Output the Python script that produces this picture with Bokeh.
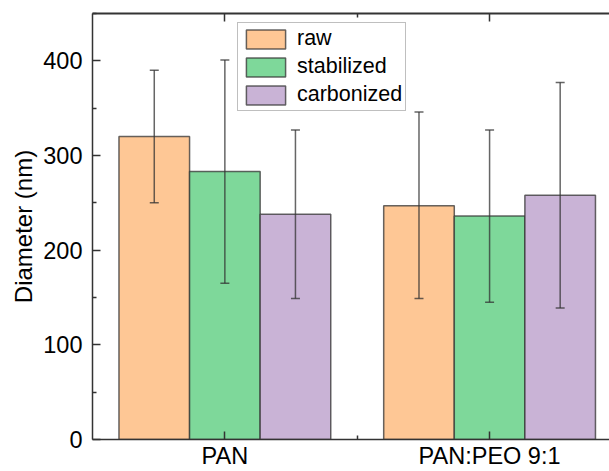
from bokeh.plotting import figure
from bokeh.models import (ColumnDataSource, Whisker, TeeHead, FixedTicker, LinearAxis,
                          Legend, LegendItem, Range1d)
from bokeh.embed import file_html
from bokeh.resources import INLINE

# ---- data ----
groups = ["PAN", "PAN:PEO 9:1"]
series = ["raw", "stabilized", "carbonized"]
raw = [320, 247]
raw_upper = [390, 346]
raw_lower = [250, 149]
stabilized = [283, 236]
stabilized_upper = [401, 327]
stabilized_lower = [165, 145]
carbonized = [238, 258]
carbonized_upper = [327, 377]
carbonized_lower = [149, 139]
y_ticks = [0, 100, 200, 300, 400]

values = [raw, stabilized, carbonized]
uppers = [raw_upper, stabilized_upper, carbonized_upper]
lowers = [raw_lower, stabilized_lower, carbonized_lower]
colors = ["#FEC795", "#7ED89A", "#C9B3D6"]

FONT = "Liberation Sans"
AX = "#333333"

p = figure(width=609, height=471, x_range=Range1d(0.5, 2.453), y_range=Range1d(0, 450),
           output_backend="svg", toolbar_location=None,
           min_border_left=92, min_border_right=0, min_border_top=13, min_border_bottom=30)
p.outline_line_color = None
p.xgrid.visible = False
p.ygrid.visible = False
p.background_fill_color = "white"
p.border_fill_color = "white"

bar_w = 0.8 / 3
centers = [1, 2]
items = []
for i, name in enumerate(series):
    off = (i - 1) * bar_w
    xs = [c + off for c in centers]
    src = ColumnDataSource(dict(x=xs, top=values[i], upper=uppers[i], lower=lowers[i]))
    r = p.vbar(x="x", top="top", width=bar_w, source=src, fill_color=colors[i],
               line_color="#333333", line_alpha=0.75, line_width=1.5)
    items.append(LegendItem(label=name, renderers=[r]))
    w = Whisker(source=src, base="x", upper="upper", lower="lower", dimension="height",
                line_color="#333333", line_alpha=0.75, line_width=1.5, level="overlay",
                upper_head=TeeHead(size=9, line_color="#333333", line_alpha=0.75, line_width=1.5),
                lower_head=TeeHead(size=9, line_color="#333333", line_alpha=0.75, line_width=1.5))
    p.add_layout(w)

# x axis
xt = FixedTicker(ticks=centers, minor_ticks=[1.5])
p.xaxis.ticker = xt
p.xaxis.major_label_overrides = {1: groups[0], 2: groups[1]}
# y axis
p.yaxis.ticker = FixedTicker(ticks=y_ticks, minor_ticks=[50, 150, 250, 350, 450])
p.yaxis.axis_label = "Diameter (nm)"

for ax in [p.xaxis[0], p.yaxis[0]]:
    ax.axis_line_color = AX
    ax.axis_line_width = 1.5
    ax.major_tick_line_color = AX
    ax.minor_tick_line_color = AX
    ax.major_tick_line_width = 1.5
    ax.minor_tick_line_width = 1.5
    ax.major_tick_in = 8
    ax.major_tick_out = 0
    ax.minor_tick_in = 4
    ax.minor_tick_out = 0
    ax.major_label_text_font = FONT
    ax.major_label_text_font_size = "23.5px"
    ax.major_label_text_color = "black"
    ax.axis_label_text_font = FONT
    ax.axis_label_text_font_size = "24px"
    ax.axis_label_text_font_style = "normal"
    ax.axis_label_text_color = "black"
p.xaxis.major_label_standoff = 3
p.yaxis.major_label_standoff = 10
p.yaxis.axis_label_standoff = 3

top = LinearAxis(ticker=FixedTicker(ticks=centers, minor_ticks=[1.5]),
                 axis_line_color=AX, axis_line_width=2,
                 major_tick_line_color=AX, minor_tick_line_color=AX,
                 major_tick_line_width=1.5, minor_tick_line_width=1.5,
                 major_tick_in=8, major_tick_out=0, minor_tick_in=4, minor_tick_out=0,
                 major_label_standoff=0, major_label_text_font_size="0px",
                 major_label_text_alpha=0)
p.add_layout(top, "above")

legend = Legend(items=items, location=(145, 328), orientation="vertical",
                glyph_width=49, glyph_height=24, label_height=24, label_standoff=7,
                spacing=3, padding=3, margin=0,
                border_line_color="#808080", border_line_width=1.5,
                background_fill_color="white", background_fill_alpha=1,
                label_text_font=FONT, label_text_font_size="21.5px", label_text_color="black")
p.add_layout(legend, "center")

open("out.html", "w").write(file_html(p, INLINE))
